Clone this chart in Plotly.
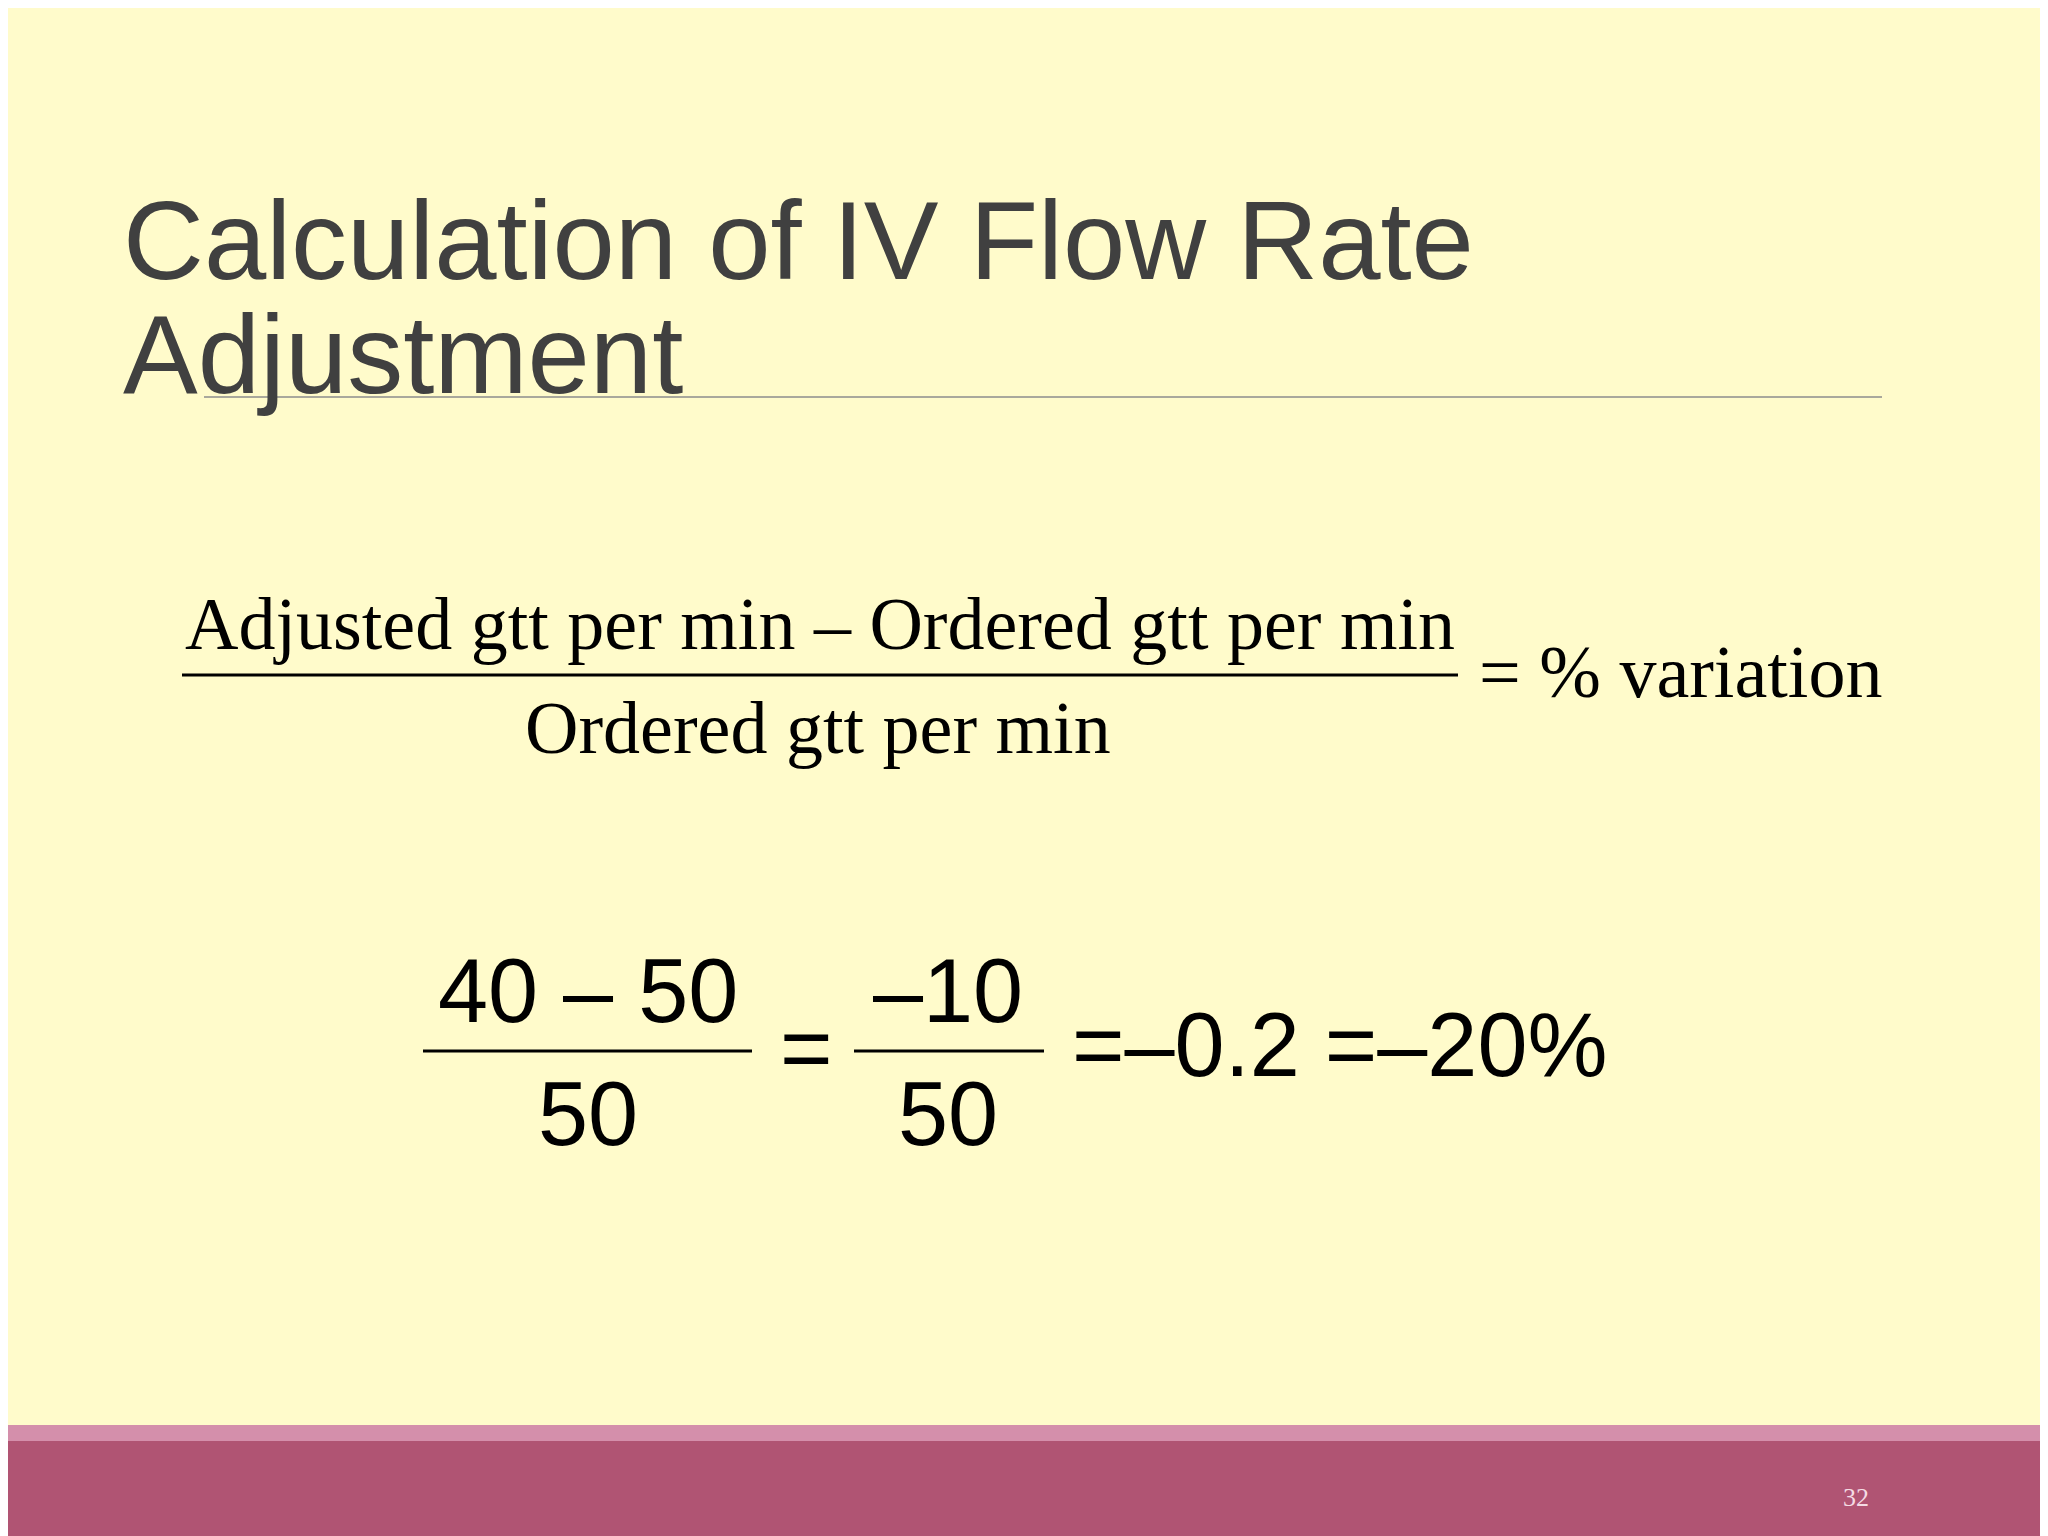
import plotly.graph_objects as go

W, H = 2048, 1536

title_lines = ["Calculation of IV Flow Rate", "Adjustment"]
formula_num = "Adjusted gtt per min \u2013 Ordered gtt per min"
formula_den = "Ordered gtt per min"
formula_rhs = "= % variation"
calc_nums = ["40 \u2013 50", "\u201310"]
calc_dens = ["50", "50"]
calc_rest = "=\u20130.2 =\u201320%"
page_no = "32"

fig = go.Figure()

ann = []
# title
ann.append(dict(x=113, y=232, text=title_lines[0], xanchor="left", yanchor="middle",
                font=dict(family="Liberation Sans", size=112, color="#404040")))
ann.append(dict(x=113, y=346, text=title_lines[1], xanchor="left", yanchor="middle",
                font=dict(family="Liberation Sans", size=112, color="#404040")))

serif = dict(family="Liberation Serif", size=74, color="#000000")
ann.append(dict(x=812, y=616, text=formula_num, xanchor="center", yanchor="middle", font=serif))
ann.append(dict(x=810, y=720, text=formula_den, xanchor="center", yanchor="middle", font=serif))
ann.append(dict(x=1469, y=664, text=formula_rhs, xanchor="left", yanchor="middle", font=serif))

sans = dict(family="Liberation Sans", size=90, color="#000000")
for cx, n, d in zip([580, 940], calc_nums, calc_dens):
    ann.append(dict(x=cx, y=983, text=n, xanchor="center", yanchor="middle", font=sans))
    ann.append(dict(x=cx, y=1106, text=d, xanchor="center", yanchor="middle", font=sans))
ann.append(dict(x=798, y=1040, text="=", xanchor="center", yanchor="middle", font=sans))
ann.append(dict(x=1062, y=1037, text=calc_rest, xanchor="left", yanchor="middle", font=sans))

ann.append(dict(x=1848, y=1489, text=page_no, xanchor="center", yanchor="middle",
                font=dict(family="Liberation Serif", size=26, color="#f4dbe4")))
for a in ann:
    a.update(xref="x", yref="y", showarrow=False)

shapes = [
    dict(type="line", x0=196, x1=1874, y0=389, y1=389, line=dict(color="#8c8c8c", width=1.5)),
    dict(type="line", x0=174, x1=1450, y0=667, y1=667, line=dict(color="#000000", width=3)),
    dict(type="line", x0=415, x1=744, y0=1043, y1=1043, line=dict(color="#000000", width=3)),
    dict(type="line", x0=846, x1=1036, y0=1043, y1=1043, line=dict(color="#000000", width=3)),
    dict(type="rect", x0=0, x1=W, y0=1417, y1=1434, line=dict(width=0), fillcolor="#d48fab"),
    dict(type="rect", x0=0, x1=W, y0=1433, y1=H, line=dict(width=0), fillcolor="#b05473"),
]
for s in shapes:
    s.update(xref="x", yref="y", layer="above")

fig.update_layout(
    width=W, height=H, margin=dict(l=0, r=0, t=0, b=0),
    paper_bgcolor="#fffbcb", plot_bgcolor="#fffbcb",
    xaxis=dict(range=[0, W], visible=False, fixedrange=True),
    yaxis=dict(range=[H, 0], visible=False, fixedrange=True),
    annotations=ann, shapes=shapes, showlegend=False,
)

fig.write_html("out.html")
